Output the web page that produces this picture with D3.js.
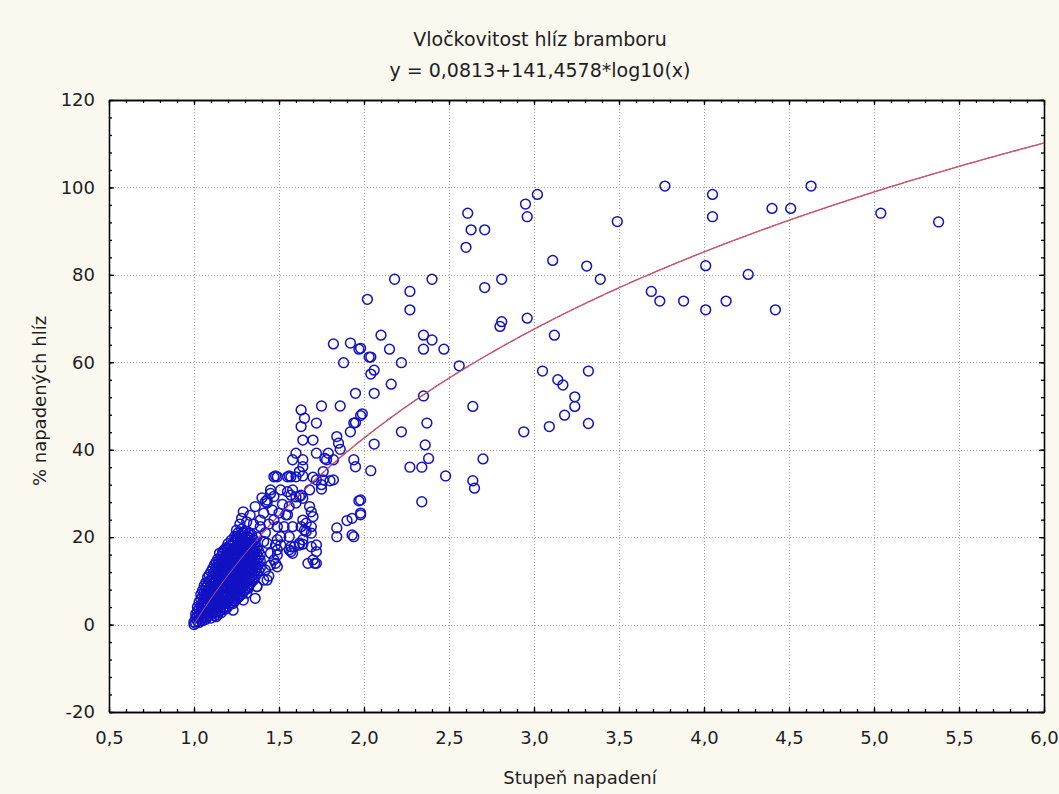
<!DOCTYPE html>
<html><head><meta charset="utf-8">
<script src="https://cdn.jsdelivr.net/npm/d3@7"></script>
<style>
html,body{margin:0;padding:0;background:#fbf8ef;}
svg{display:block;}
text{font-family:"DejaVu Sans",sans-serif;fill:#1e1e1e;}
</style></head><body>
<svg id="chart" width="1059" height="794"></svg>
<script>
// Titles and axis labels
const nadpis = ["Vločkovitost hlíz bramboru", "y = 0,0813+141,4578*log10(x)"];
const popisX = "Stupeň napadení";
const popisY = "% napadených hlíz";

// Axis ticks
const tickyX = [0.5, 1.0, 1.5, 2.0, 2.5, 3.0, 3.5, 4.0, 4.5, 5.0, 5.5, 6.0];
const tickyY = [-20, 0, 20, 40, 60, 80, 100, 120];

// Regression y = a + b*log10(x)
const regreseA = 0.0813;
const regreseB = 141.4578;
const regreseRozsah = [1.0, 6.0];

// Sparse observations [stupeň napadení, % napadených hlíz]
const bodyRozptyl = [
  [3.77,100.3],[4.05,98.4],[4.05,93.3],[4.40,95.2],[4.51,95.2],[4.63,100.3],[5.04,94.1],[5.38,92.1],
  [4.01,82.1],[4.26,80.1],[3.69,76.2],[3.74,74.0],[3.88,74.0],[4.01,72.0],[4.13,74.0],[4.42,72.0],
  [3.02,98.4],[2.95,96.2],[2.96,93.3],[2.61,94.1],[2.63,90.3],[2.71,90.3],[2.60,86.3],[3.49,92.2],
  [3.11,83.3],[3.31,82.0],[3.39,79.0],[2.71,77.1],[2.81,79.0],[2.81,69.3],[2.80,68.2],[2.96,70.1],
  [3.12,66.2],[2.56,59.2],[2.64,49.9],[3.05,58.0],[3.14,56.0],[3.17,54.8],[3.32,58.0],[3.24,52.1],
  [3.24,49.9],[3.18,47.9],[3.09,45.3],[2.94,44.1],[3.32,46.0],[2.70,37.9],[2.64,32.9],[2.65,31.2],
  [2.18,79.0],[2.40,79.0],[2.27,76.2],[2.02,74.4],[2.27,72.0]
];

// Middle band observations
const bodyStred = [
  [1.82,64.2],[1.92,64.4],[1.98,63.2],[1.97,63.0],[2.03,61.2],[2.04,61.2],[2.10,66.2],[2.15,63.0],
  [2.35,66.2],[2.40,65.1],[2.35,63.0],[2.47,63.0],[1.88,59.9],[2.22,59.9],[2.06,58.2],[2.04,57.3],
  [2.16,55.0],[1.95,52.9],[2.06,52.9],[2.35,52.3],[1.63,49.1],[1.75,50.0],[1.86,50.0],[1.99,48.2],
  [1.98,47.8],[1.95,46.2],[1.94,46.1],[1.65,47.2],[1.72,46.1],[1.63,45.3],[1.92,44.1],[2.22,44.1],
  [2.37,46.1],[1.84,43.0],[1.85,41.5],[1.64,42.2],[1.70,42.2],[2.06,41.3],[2.36,41.1],
  [1.86,40.1],[1.60,39.2],[1.58,37.7],[1.64,37.7],[1.64,36.1],[1.72,39.2],[1.79,39.2],[1.77,38.0],
  [1.94,37.7],[1.95,36.1],[2.04,35.2],[2.27,36.0],[2.34,36.0],[2.38,38.0],[2.48,34.0],[2.34,28.1],
  [1.48,34.0],[1.56,34.0],[1.64,34.0],[1.70,33.7],[1.76,35.0],[1.80,32.9],[1.82,33.1],[1.75,31.0],
  [1.75,32.0],[1.57,29.6],[1.60,29.2],[1.42,28.1],[1.47,29.3],[1.64,28.9],[1.68,27.0],[1.69,25.8],
  [1.97,28.3],[1.98,25.1],[1.90,23.8],[1.84,22.1],[1.84,20.1],[1.94,20.1],[1.64,18.4],[1.72,18.2],
  [1.72,16.7],[1.67,14.0],[1.72,14.0],[1.57,16.7],[1.56,20.1],[1.51,18.2],[1.48,18.2],[1.49,15.9],
  [1.48,14.0],[1.43,18.6],[1.62,18.6],[1.58,22.4],[1.63,22.4],[1.64,23.9],[1.66,23.2],[1.69,20.9],
  [1.55,25.1],[1.56,27.0],[1.60,27.8]
];

// Observations at the edge of the dense group
const bodyOkraj = [
  [1.29,25.8],[1.28,24.3],[1.25,21.6],[1.25,20.1],[1.17,16.4],[1.23,17.1],[1.39,23.9],[1.45,30.8],
  [1.49,33.8],[1.57,33.8],[1.62,35.0],[1.43,27.8],[1.46,26.2],[1.41,25.5],[1.39,22.4],[1.49,22.4],
  [1.53,22.4],[1.49,17.1],[1.56,17.1],[1.59,17.8],[1.45,13.6],[1.49,13.2],[1.41,10.2],[1.44,11.1],
  [1.32,8.3],[1.36,6.0],[1.37,8.7],[1.69,17.8],[1.70,14.8],[1.71,14.0],[1.62,18.2],[1.64,19.4],
  [1.66,21.3],[1.54,25.1],[1.55,30.4],[1.63,29.6],[1.78,37.7],[1.82,37.7],[1.47,33.8],[1.55,33.8],
  [1.60,33.8],[1.51,30.8],[1.58,30.8],[1.62,29.3],[1.45,30.0],[1.43,28.5],[1.68,30.8],[1.72,33.1],
  [1.76,33.1],[1.70,24.7],[1.69,22.4],[1.65,21.6],[1.93,20.5],[1.93,24.3],[1.98,25.5],[1.98,28.5],
  [1.57,17.8],[1.58,16.3],[1.49,19.4],[1.51,20.1],[1.45,16.3],[1.47,14.8],[1.42,12.5],[1.43,10.2],
  [1.35,10.2],[1.37,8.7],[1.29,5.6],[1.31,7.2],[1.23,3.3],[1.13,1.8],[1.15,16.3],[1.17,16.3],
  [1.29,20.9],[1.33,20.9],[1.40,29.0],[1.36,27.0],[1.33,25.0],[1.35,23.0],[1.31,23.5],[1.27,23.0],
  [1.37,20.0],[1.41,19.0],[1.42,21.0],[1.44,23.0],[1.52,27.5],[1.50,25.5],[1.47,24.0]
];

// Dense group near the origin: stupeň napadení with its observed percentages
const shlukX = [1.00,1.01,1.02,1.03,1.04,1.05,1.06,1.07,1.08,1.09,1.10,1.11,1.12,1.13,1.14,1.15,
  1.16,1.17,1.18,1.19,1.20,1.21,1.22,1.23,1.24,1.25,1.26,1.27,1.28,1.29,1.30,1.31,1.32,1.33,1.34,
  1.35,1.36,1.37,1.38,1.39];
const shlukY = [
  [0.0,0.6],
  [0.3,1.5,2.4],
  [0.8,1.9,3.1,4.0],
  [0.5,2.2,3.6,5.1],
  [1.1,2.7,4.3,5.8,6.9],
  [0.9,2.0,3.4,5.0,6.4,7.8],
  [1.6,3.0,4.6,6.1,7.3,8.9],
  [1.2,2.5,3.9,5.4,7.0,8.4,9.6],
  [1.8,3.3,4.8,6.2,7.7,9.1,10.8],
  [2.1,3.7,5.5,6.8,8.3,9.9,11.4],
  [1.5,2.9,4.4,6.0,7.4,8.8,10.3,12.1],
  [2.4,3.8,5.2,6.9,8.1,9.6,11.0,12.8],
  [2.0,3.5,4.9,6.4,7.9,9.3,10.7,12.0,13.6],
  [2.8,4.1,5.7,7.2,8.6,10.1,11.5,13.0,14.3],
  [2.3,3.6,5.1,6.6,8.0,9.4,10.9,12.4,13.8,15.0],
  [3.1,4.5,6.0,7.5,8.9,10.4,11.8,13.3,14.7],
  [2.7,4.0,5.4,7.0,8.4,9.8,11.3,12.7,14.1,15.6],
  [3.4,4.8,6.3,7.8,9.2,10.6,12.2,13.5,15.0,16.8],
  [3.9,5.3,6.7,8.2,9.7,11.1,12.6,14.0,15.4,17.2],
  [3.6,5.0,6.4,8.8,10.2,11.6,13.1,14.5,16.0,17.6],
  [4.2,5.7,7.1,8.6,10.0,11.5,12.9,14.4,15.8,17.3,18.5],
  [4.6,6.0,7.6,9.1,10.5,12.0,13.4,14.9,16.4,18.0],
  [5.0,6.5,8.0,9.4,10.9,12.3,13.8,15.3,16.8,18.2,19.3],
  [4.8,6.2,7.7,9.9,11.3,12.8,14.2,15.7,17.1,18.7],
  [5.4,6.9,8.4,10.3,11.8,13.2,14.7,16.1,17.6,19.0,20.2],
  [5.8,7.3,8.8,10.7,12.1,13.6,15.1,16.5,18.0,19.5],
  [6.2,7.6,9.1,11.0,12.5,14.0,15.4,16.9,18.4,19.9,21.0],
  [6.6,8.1,9.6,11.4,12.9,14.3,15.8,17.3,18.7,20.3],
  [7.0,8.5,10.0,11.8,13.3,14.8,16.2,17.7,19.2,20.6,21.8],
  [7.4,8.9,10.5,12.2,13.7,15.2,16.6,18.1,19.6,21.1],
  [7.9,9.4,10.9,12.6,14.1,15.5,17.0,18.5,20.0,21.4],
  [8.3,9.8,11.3,13.0,14.5,16.0,17.4,18.9,20.3],
  [8.8,10.2,11.7,13.4,14.9,16.4,17.8,19.3,20.8],
  [9.3,10.7,12.2,13.8,15.3,16.8,18.3,19.8],
  [9.8,11.2,12.7,14.2,15.7,17.2,18.7,20.4],
  [10.4,11.8,13.3,14.8,16.3,17.8,19.4],
  [11.0,12.4,13.9,15.4,16.9,18.5],
  [11.7,13.1,14.6,16.1,17.6],
  [12.3,13.8,15.3,16.8],
  [13.0,14.6,16.0]
];

// ---------- layout ----------
const svg = d3.select("#chart");
const plot = {left: 109, right: 1044, top: 100, bottom: 712};

const x = d3.scaleLinear().domain([0.5, 6.0]).range([plot.left, plot.right]);
const y = d3.scaleLinear().domain([-20, 120]).range([plot.bottom, plot.top]);
const carka = d => d3.format(".1f")(d).replace(".", ",");
const cele = d => String(d);

// plot background
svg.append("rect")
  .attr("x", plot.left).attr("y", plot.top)
  .attr("width", plot.right - plot.left).attr("height", plot.bottom - plot.top)
  .attr("fill", "#ffffff");

// dotted grid
const grid = svg.append("g").attr("stroke", "#a4a4a4").attr("stroke-width", 1)
  .attr("stroke-dasharray", "1,2");
grid.selectAll("line.gx").data(tickyX.slice(1, -1)).join("line")
  .attr("x1", d => Math.round(x(d)) + 0.5).attr("x2", d => Math.round(x(d)) + 0.5)
  .attr("y1", plot.top).attr("y2", plot.bottom);
grid.selectAll("line.gy").data(tickyY.slice(1, -1)).join("line")
  .attr("y1", d => Math.round(y(d)) + 0.5).attr("y2", d => Math.round(y(d)) + 0.5)
  .attr("x1", plot.left).attr("x2", plot.right);

// minor tick positions
const minorX = d3.range(5, 61).map(i => i / 10);
const minorY = d3.range(-20, 121, 4);

function osa(gen, tx, ty, values, size, labels) {
  const g = svg.append("g").attr("transform", `translate(${tx},${ty})`)
    .call(gen.tickValues(values).tickSizeInner(size).tickSizeOuter(0));
  g.select(".domain").attr("stroke", "#000").attr("stroke-width", 1.3);
  g.selectAll(".tick line").attr("stroke", "#000").attr("stroke-width", 1.3);
  if (!labels) g.selectAll(".tick text").remove();
  return g;
}

// bottom axis
osa(d3.axisBottom(x), 0, plot.bottom, minorX, -3, false);
osa(d3.axisBottom(x).tickFormat(carka).tickPadding(19), 0, plot.bottom, tickyX, -5, true)
  .selectAll(".tick text").attr("font-size", 18).attr("fill", "#1e1e1e");
// left axis
osa(d3.axisLeft(y), plot.left, 0, minorY, -3, false);
osa(d3.axisLeft(y).tickPadding(14).tickFormat(cele), plot.left, 0, tickyY, -5, true)
  .selectAll(".tick text").attr("font-size", 18).attr("fill", "#1e1e1e");
// right and top frame
osa(d3.axisRight(y), plot.right, 0, minorY, -3, false);
osa(d3.axisRight(y), plot.right, 0, tickyY, -5, false);
osa(d3.axisTop(x), 0, plot.top, minorX, -3, false);
osa(d3.axisTop(x), 0, plot.top, tickyX, -5, false);

// regression curve
const fitX = d3.range(regreseRozsah[0], regreseRozsah[1] + 0.0001, 0.01);
const krivka = d3.line().x(d => x(d)).y(d => y(regreseA + regreseB * Math.log10(d)));
svg.append("path").datum(fitX)
  .attr("fill", "none").attr("stroke", "#b8283a").attr("stroke-width", 1.3)
  .attr("d", krivka);

// observations
const shluk = shlukX.flatMap((sx, i) => shlukY[i].map(v => [sx, v]));
const vsechny = bodyRozptyl.concat(bodyStred, bodyOkraj, shluk);
svg.append("g").selectAll("circle").data(vsechny).join("circle")
  .attr("cx", d => x(d[0])).attr("cy", d => y(d[1])).attr("r", 4.9)
  .attr("fill", "none").attr("stroke", "#1212c4").attr("stroke-width", 1.5);

// curve stays visible through the dense markers
svg.append("path").datum(fitX)
  .attr("fill", "none").attr("stroke", "#d9708e").attr("stroke-width", 0.9).attr("opacity", 0.85)
  .attr("d", krivka);

// titles
svg.append("text").attr("x", 540).attr("y", 46).attr("text-anchor", "middle")
  .attr("font-size", 19).text(nadpis[0]);
svg.append("text").attr("x", 540).attr("y", 77).attr("text-anchor", "middle")
  .attr("font-size", 19).text(nadpis[1]);
svg.append("text").attr("x", 580).attr("y", 784).attr("text-anchor", "middle")
  .attr("font-size", 18).text(popisX);
svg.append("text").attr("transform", "translate(46,401) rotate(-90)").attr("text-anchor", "middle")
  .attr("font-size", 18).text(popisY);
</script></body></html>
